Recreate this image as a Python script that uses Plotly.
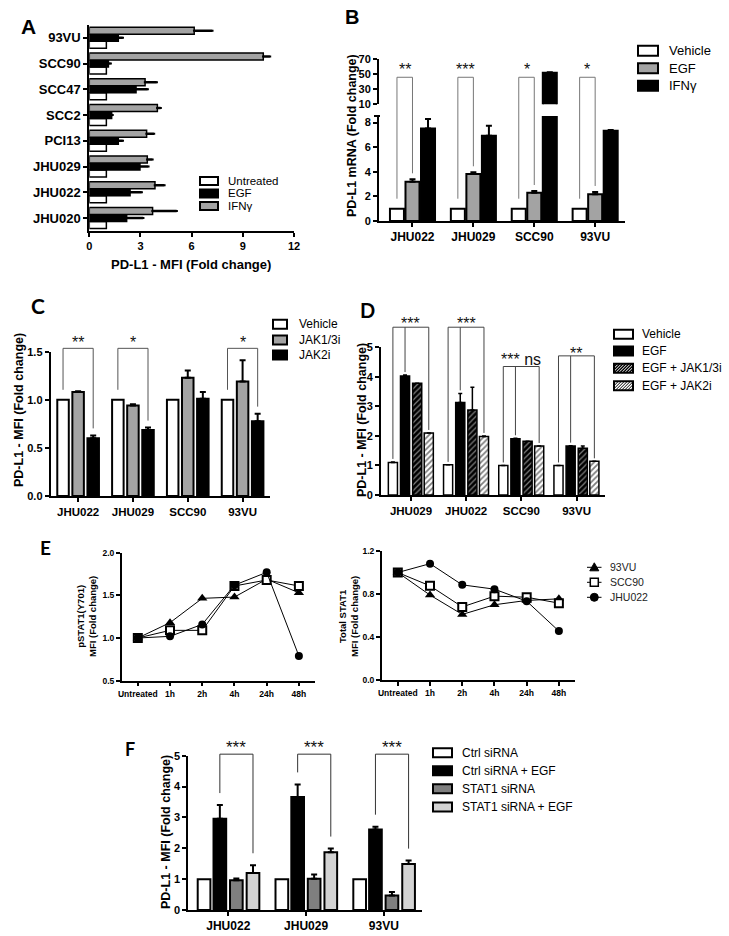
import plotly.graph_objects as go

W, H = 729, 936
FONT = "Liberation Sans, Arial, sans-serif"
LFONT = "Lato, Open Sans, sans-serif"

# ======================= DATA =======================
# Panel A (horizontal bars, listed top -> bottom)
a_lines = ["93VU", "SCC90", "SCC47", "SCC2", "PCI13", "JHU029", "JHU022", "JHU020"]
a_series = ["Untreated", "EGF", "IFNγ"]
a_untreated = [1.0, 1.0, 1.0, 1.0, 1.0, 1.0, 1.0, 1.0]
a_egf = [1.70, 1.12, 2.74, 1.31, 1.70, 2.97, 2.39, 2.19]
a_egf_err = [0.26, 0.13, 0.68, 0.05, 0.26, 0.49, 0.68, 0.97]
a_ifn = [6.15, 10.20, 3.27, 3.99, 3.36, 3.40, 3.85, 3.71]
a_ifn_err = [1.06, 0.39, 0.68, 0.19, 0.43, 0.30, 0.55, 1.41]
a_xticks = [0, 3, 6, 9, 12]

# Panel B (broken axis)
b_lines = ["JHU022", "JHU029", "SCC90", "93VU"]
b_series = ["Vehicle", "EGF", "IFNγ"]
b_vehicle = [1.0, 1.0, 1.0, 1.0]
b_egf = [3.20, 3.82, 2.30, 2.17]
b_egf_err = [0.19, 0.14, 0.14, 0.19]
b_ifn = [7.53, 6.94, 52.2, 7.34]
b_ifn_err = [0.76, 0.81, 0.5, 0.06]
b_yticks_low = [0, 2, 4, 6, 8]
b_yticks_high = [10, 30, 50, 70]
b_sig = ["**", "***", "*", "*"]

# Panel C
c_lines = ["JHU022", "JHU029", "SCC90", "93VU"]
c_series = ["Vehicle", "JAK1/3i", "JAK2i"]
c_vehicle = [1.0, 1.0, 1.0, 1.0]
c_jak13 = [1.08, 0.94, 1.23, 1.19]
c_jak13_err = [0.01, 0.015, 0.075, 0.22]
c_jak2 = [0.60, 0.686, 1.01, 0.776]
c_jak2_err = [0.03, 0.025, 0.07, 0.08]
c_yticks = [0.0, 0.5, 1.0, 1.5]
c_sig = ["**", "*", "", "*"]

# Panel D
d_lines = ["JHU029", "JHU022", "SCC90", "93VU"]
d_series = ["Vehicle", "EGF", "EGF + JAK1/3i", "EGF + JAK2i"]
d_vehicle = [1.10, 1.02, 1.0, 1.0]
d_vehicle_err = [0.02, 0.0, 0.0, 0.0]
d_egf = [4.03, 3.13, 1.90, 1.66]
d_egf_err = [0.03, 0.31, 0.02, 0.01]
d_jak13 = [3.78, 2.88, 1.82, 1.58]
d_jak13_err = [0.0, 0.77, 0.0, 0.08]
d_jak2 = [2.10, 1.98, 1.66, 1.14]
d_jak2_err = [0.0, 0.02, 0.0, 0.0]
d_yticks = [0, 1, 2, 3, 4, 5]
d_sig = ["***", "***", "*** ns", "**"]

# Panel E (time courses)
e_times = ["Untreated", "1h", "2h", "4h", "24h", "48h"]
e_lines = ["93VU", "SCC90", "JHU022"]
e_pstat1_93vu = [1.0, 1.18, 1.465, 1.48, 1.69, 1.53]
e_pstat1_scc90 = [1.0, 1.09, 1.09, 1.61, 1.68, 1.61]
e_pstat1_jhu022 = [1.0, 1.02, 1.16, 1.62, 1.77, 0.79]
e_total_93vu = [1.0, 0.79, 0.61, 0.70, 0.74, 0.755]
e_total_scc90 = [1.0, 0.876, 0.68, 0.78, 0.77, 0.715]
e_total_jhu022 = [1.0, 1.082, 0.885, 0.845, 0.733, 0.455]
e_yticks_p = [0.5, 1.0, 1.5, 2.0]
e_yticks_t = [0.0, 0.4, 0.8, 1.2]

# Panel F
f_lines = ["JHU022", "JHU029", "93VU"]
f_series = ["Ctrl siRNA", "Ctrl siRNA + EGF", "STAT1 siRNA", "STAT1 siRNA + EGF"]
f_ctrl = [1.0, 1.0, 1.0]
f_ctrl_egf = [2.96, 3.66, 2.61]
f_ctrl_egf_err = [0.44, 0.41, 0.09]
f_stat1 = [0.96, 1.01, 0.47]
f_stat1_err = [0.06, 0.14, 0.11]
f_stat1_egf = [1.20, 1.87, 1.49]
f_stat1_egf_err = [0.25, 0.12, 0.11]
f_yticks = [0, 1, 2, 3, 4, 5]
f_sig = ["***", "***", "***"]

# ======================= STYLE =======================
GRAY = "#a3a3a3"
DGRAY = "#7f7f7f"
LGRAY = "#d3d3d3"

fig = go.Figure()
shapes = []
annots = []


def dom_x(x0, x1):
    return [x0 / W, x1 / W]


def dom_y(ytop, ybot):
    return [1 - ybot / H, 1 - ytop / H]


def base_axis(size=11, **kw):
    d = dict(showline=True, linecolor="black", linewidth=2, ticks="outside",
             ticklen=4, tickwidth=2, tickcolor="black", showgrid=False,
             zeroline=False, automargin=False, fixedrange=True,
             tickfont=dict(family=FONT, size=size, color="black", weight="bold"))
    d.update(kw)
    return d


def add_bars(pos, vals, errs, xa, ya, offset, width, color, lw=1.5,
             pattern=None, orient="v", err_w=3, err_t=2, name=None):
    marker = dict(color=color, line=dict(color="black", width=lw))
    if pattern is not None:
        marker["pattern"] = pattern
    kw = dict(name=name, xaxis=xa, yaxis=ya, width=width, offset=offset,
              showlegend=False, marker=marker, hoverinfo="skip")
    err = None
    if errs is not None:
        err = dict(type="data", symmetric=False, array=list(errs),
                   arrayminus=[0] * len(errs), color="black",
                   thickness=err_t, width=err_w)
    if orient == "h":
        kw.update(orientation="h", y=pos, x=vals)
        if err:
            kw["error_x"] = err
    else:
        kw.update(x=pos, y=vals)
        if err:
            kw["error_y"] = err
    fig.add_trace(go.Bar(**kw))


def yfrac(v, r):
    return (v - r[0]) / (r[1] - r[0])


def bracket(xa, ya, rng, xs, bottoms, top, label, label_y, color, fs, lw=1):
    yref = ya + " domain"
    shapes.append(dict(type="line", xref=xa, yref=yref, x0=min(xs), x1=max(xs),
                       y0=yfrac(top, rng), y1=yfrac(top, rng),
                       line=dict(color=color, width=lw)))
    for x, b in zip(xs, bottoms):
        shapes.append(dict(type="line", xref=xa, yref=yref, x0=x, x1=x,
                           y0=yfrac(b, rng), y1=yfrac(top, rng),
                           line=dict(color=color, width=lw)))
    if label:
        annots.append(dict(xref=xa, yref=yref, x=(min(xs) + max(xs)) / 2,
                           y=yfrac(label_y, rng), text=label, showarrow=False,
                           xanchor="center", yanchor="middle",
                           font=dict(family=FONT, size=fs, color="#111")))


def pxs(x):
    return x / W


def pys(y):
    return 1 - y / H


def legend_box(x0, x1, yc, h, fill, hatch=None, lw=2):
    y0, y1 = yc - h / 2, yc + h / 2
    shapes.append(dict(type="rect", xref="paper", yref="paper", x0=pxs(x0), x1=pxs(x1),
                       y0=pys(y1), y1=pys(y0), fillcolor=fill, line=dict(width=0)))
    if hatch is not None:
        hcol, sp = hatch
        c = x0 + y0 + sp / 2
        while c < x1 + y1:
            xa_ = max(x0, c - y1)
            xb_ = min(x1, c - y0)
            if xa_ < xb_:
                shapes.append(dict(type="line", xref="paper", yref="paper",
                                   x0=pxs(xa_), y0=pys(c - xa_), x1=pxs(xb_), y1=pys(c - xb_),
                                   line=dict(color=hcol, width=1)))
            c += sp
    shapes.append(dict(type="rect", xref="paper", yref="paper", x0=pxs(x0), x1=pxs(x1),
                       y0=pys(y1), y1=pys(y0), fillcolor="rgba(0,0,0,0)",
                       line=dict(color="black", width=lw)))


def legend_text(x, yc, text, size, color="black"):
    annots.append(dict(xref="paper", yref="paper", x=pxs(x), y=pys(yc), text=text,
                       showarrow=False, xanchor="left", yanchor="middle",
                       font=dict(family=FONT, size=size, color=color)))


def free_text(x, y, text, size, family=FONT, bold=True, angle=0, color="black"):
    annots.append(dict(xref="paper", yref="paper", x=pxs(x), y=pys(y), text=text,
                       showarrow=False, xanchor="center", yanchor="middle",
                       textangle=angle,
                       font=dict(family=family, size=size, color=color,
                                 weight="bold" if bold else "normal")))


layout_axes = {}

# ======================= PANEL A =======================
a_pos = list(range(len(a_lines)))
A_W = 0.27
add_bars(a_pos, a_untreated, None, "x", "y", 0.13, A_W, "white", orient="h", name=a_series[0])
add_bars(a_pos, a_egf, a_egf_err, "x", "y", -0.14, A_W, "black", orient="h",
         err_w=1, err_t=2.5, name=a_series[1])
add_bars(a_pos, a_ifn, a_ifn_err, "x", "y", -0.41, A_W, GRAY, orient="h",
         err_w=1, err_t=2.5, name=a_series[2])
layout_axes["xaxis"] = base_axis(11, domain=dom_x(89.3, 294), range=[0, 12],
                                 tickvals=a_xticks, anchor="y")
layout_axes["yaxis"] = base_axis(13, domain=dom_y(25, 231), range=[7.5, -0.5],
                                 tickvals=a_pos, ticktext=a_lines, anchor="x")
free_text(191, 264, "PD-L1 - MFI (Fold change)", 13)
for lbl, col, yc in zip(a_series, ["white", "black", GRAY], [181, 193.5, 206]):
    legend_box(200, 218, yc, 8, col)
    legend_text(226, yc, lbl, 11.5)
free_text(28, 26, "A", 21)

# ======================= PANEL B =======================
b_pos = list(range(len(b_lines)))
B_W = 0.23
B_OFF = [-0.37, -0.115, 0.14]
B_LOW = [0, 8.54]
B_HIGH = [10, 70]
add_bars(b_pos, b_vehicle, None, "x2", "y2", B_OFF[0], B_W, "white", lw=2, name=b_series[0])
add_bars(b_pos, b_egf, b_egf_err, "x2", "y2", B_OFF[1], B_W, GRAY, lw=2, name=b_series[1])
b_ifn_err_low = [e if v + e < B_LOW[1] else 0 for v, e in zip(b_ifn, b_ifn_err)]
add_bars(b_pos, b_ifn, b_ifn_err_low, "x2", "y2", B_OFF[2], B_W, "black", lw=2, name=b_series[2])
# upper segment of the broken axis: only values that reach it
b_ifn_high = [v if v > B_HIGH[0] else None for v in b_ifn]
b_ifn_err_high = [e if v > B_HIGH[0] else 0 for v, e in zip(b_ifn, b_ifn_err)]
add_bars(b_pos, b_ifn_high, b_ifn_err_high, "x2", "y3", B_OFF[2], B_W, "black", lw=2,
         name=b_series[2])
layout_axes["xaxis2"] = base_axis(12, domain=dom_x(379, 625), range=[-0.55, 3.49],
                                  tickvals=b_pos, ticktext=b_lines, anchor="y2")
layout_axes["yaxis2"] = base_axis(11, domain=dom_y(116, 221), range=B_LOW,
                                  tickvals=b_yticks_low, anchor="x2")
layout_axes["yaxis3"] = base_axis(11, domain=dom_y(59.3, 104.3), range=B_HIGH,
                                  tickvals=b_yticks_high, anchor="x2")
shapes.append(dict(type="line", xref="paper", yref="paper", x0=pxs(374), x1=pxs(380),
                   y0=pys(116), y1=pys(116), line=dict(color="black", width=2)))
b_ppu = (221 - 116) / (B_LOW[1] - B_LOW[0])
for i in b_pos:
    xl = i + B_OFF[0] + B_W / 2
    xr = i + B_OFF[1] + B_W / 2
    bl = b_vehicle[i] + 10 / b_ppu
    br = b_egf[i] + b_egf_err[i] + 6 / b_ppu
    bracket("x2", "y2", B_LOW, [xl, xr], [bl, br], 11.69, b_sig[i], 12.35, "#777", 16)
free_text(352, 136, "PD-L1 mRNA (Fold change)", 12.5, angle=-90)
for lbl, col, yc in zip(b_series, ["white", GRAY, "black"], [50.7, 68.3, 85.7]):
    legend_box(638, 658, yc, 10, col)
    legend_text(667, yc, lbl, 13)
free_text(352, 17, "B", 20)

# ======================= PANEL C =======================
c_pos = list(range(len(c_lines)))
C_W = 0.21
C_OFF = [-0.38, -0.105, 0.17]
C_R = [0, 1.5]
add_bars(c_pos, c_vehicle, None, "x3", "y4", C_OFF[0], C_W, "white", lw=2, name=c_series[0])
add_bars(c_pos, c_jak13, c_jak13_err, "x3", "y4", C_OFF[1], C_W, GRAY, lw=2, name=c_series[1])
add_bars(c_pos, c_jak2, c_jak2_err, "x3", "y4", C_OFF[2], C_W, "black", lw=2, name=c_series[2])
layout_axes["xaxis3"] = base_axis(11.5, domain=dom_x(50.7, 270), range=[-0.5, 3.5],
                                  tickvals=c_pos, ticktext=c_lines, anchor="y4")
layout_axes["yaxis4"] = base_axis(11, domain=dom_y(351.7, 496), range=C_R,
                                  tickvals=c_yticks, tickformat=".1f", anchor="x3")
c_ppu = (496 - 351.7) / (C_R[1] - C_R[0])
for i in c_pos:
    if not c_sig[i]:
        continue
    xl = i + C_OFF[0] + C_W / 2
    xr = i + C_OFF[2] + C_W / 2
    bl = c_vehicle[i] + 10 / c_ppu
    br = c_jak2[i] + c_jak2_err[i] + 7 / c_ppu
    bracket("x3", "y4", C_R, [xl, xr], [bl, br], 1.535, c_sig[i], 1.596, "#555", 16)
free_text(19, 410, "PD-L1 - MFI (Fold change)", 12.5, angle=-90)
for lbl, col, yc in zip(c_series, ["white", GRAY, "black"], [324.3, 340, 355]):
    legend_box(273, 287, yc, 9, col)
    legend_text(297, yc, lbl, 12)
free_text(38, 306, "C", 21, family=LFONT)

# ======================= PANEL D =======================
d_pos = list(range(len(d_lines)))
D_W = 0.165
D_OFF = [-0.41, -0.19, 0.03, 0.24]
D_R = [0, 5]
pat13 = dict(shape="/", fgcolor="white", bgcolor="black", size=4, solidity=0.3)
pat2 = dict(shape="/", fgcolor="black", bgcolor="white", size=4, solidity=0.45)
add_bars(d_pos, d_vehicle, d_vehicle_err, "x4", "y5", D_OFF[0], D_W, "white", lw=1.5,
         err_w=2, err_t=1.5, name=d_series[0])
add_bars(d_pos, d_egf, d_egf_err, "x4", "y5", D_OFF[1], D_W, "black", lw=1.5,
         err_w=2, err_t=1.5, name=d_series[1])
add_bars(d_pos, d_jak13, d_jak13_err, "x4", "y5", D_OFF[2], D_W, "black", lw=1.5,
         pattern=pat13, err_w=2, err_t=1.5, name=d_series[2])
add_bars(d_pos, d_jak2, d_jak2_err, "x4", "y5", D_OFF[3], D_W, "white", lw=1.5,
         pattern=pat2, err_w=2, err_t=1.5, name=d_series[3])
layout_axes["xaxis4"] = base_axis(11.5, domain=dom_x(381, 605), range=[-0.543, 3.515],
                                  tickvals=d_pos, ticktext=d_lines, anchor="y5")
layout_axes["yaxis5"] = base_axis(11, domain=dom_y(347.3, 495), range=D_R,
                                  tickvals=d_yticks, anchor="x4")
d_top = [5.68, 5.68, 4.35, 4.71]
d_lab = [5.80, 5.80, 4.58, 4.80]
d_ppu = (495 - 347.3) / (D_R[1] - D_R[0])
for i in d_pos:
    xs = [i + D_OFF[0] + D_W / 2, i + D_OFF[1] + D_W / 2, i + D_OFF[3] + D_W / 2]
    bts = [d_vehicle[i] + d_vehicle_err[i] + 3 / d_ppu,
           d_egf[i] + d_egf_err[i] + 3 / d_ppu,
           d_jak2[i] + d_jak2_err[i] + 3 / d_ppu]
    bracket("x4", "y5", D_R, xs, bts, d_top[i], d_sig[i], d_lab[i], "#444", 16)
free_text(362, 420, "PD-L1 - MFI (Fold change)", 12.5, angle=-90)
d_fills = [("white", None), ("black", None), ("black", ("white", 3)), ("white", ("black", 3))]
for lbl, (col, hat), yc in zip(d_series, d_fills, [334.3, 351, 368.3, 385.7]):
    legend_box(614, 633, yc, 9, col, hatch=hat)
    legend_text(640, yc, lbl, 12)
free_text(368, 310, "D", 20, family=LFONT)

# ======================= PANEL E =======================
e_pos = list(range(len(e_times)))
e_marks = [dict(symbol="triangle-up", size=9, color="black"),
           dict(symbol="square", size=8, color="white", line=dict(color="black", width=2)),
           dict(symbol="circle", size=8, color="black")]
for series, mk, nm in zip([e_pstat1_93vu, e_pstat1_scc90, e_pstat1_jhu022], e_marks, e_lines):
    fig.add_trace(go.Scatter(x=e_pos, y=series, mode="lines+markers", name=nm,
                             xaxis="x5", yaxis="y6", showlegend=False, hoverinfo="skip",
                             line=dict(color="black", width=1), marker=mk))
for series, mk, nm in zip([e_total_93vu, e_total_scc90, e_total_jhu022], e_marks, e_lines):
    fig.add_trace(go.Scatter(x=e_pos, y=series, mode="lines+markers", name=nm,
                             xaxis="x6", yaxis="y7", showlegend=False, hoverinfo="skip",
                             line=dict(color="black", width=1), marker=mk))
for xa, ya, xd, yd, rng, tv in [("xaxis5", "yaxis6", (121.7, 315), (552.7, 680.7), [0.5, 2.0], e_yticks_p),
                                ("xaxis6", "yaxis7", (381.7, 575), (551, 680), [0, 1.2], e_yticks_t)]:
    layout_axes[xa] = base_axis(8.5, domain=dom_x(*xd), range=[-0.5, 5.5], tickvals=e_pos,
                                ticktext=e_times, anchor=ya.replace("axis", ""),
                                linewidth=1.5, tickwidth=1.5)
    layout_axes[ya] = base_axis(8.5, domain=dom_y(*yd), range=rng, tickvals=tv,
                                tickformat=".1f", anchor=xa.replace("axis", ""),
                                linewidth=1.5, tickwidth=1.5)
free_text(86, 617, "pSTAT1(Y701)<br>MFI (Fold change)", 9.5, angle=-90)
free_text(348, 617, "Total STAT1<br>MFI (Fold change)", 9.5, angle=-90)
# E legend (symbol + line)
for nm, yc, kind in zip(e_lines, [567.3, 582.3, 597.3], ["tri", "sq", "ci"]):
    cx = 594.3
    shapes.append(dict(type="line", xref="paper", yref="paper", x0=pxs(587), x1=pxs(601.5),
                       y0=pys(yc), y1=pys(yc), line=dict(color="black", width=1)))
    if kind == "tri":
        path = "M {},{} L {},{} L {},{} Z".format(pxs(cx), pys(yc - 4.5), pxs(cx + 4.5), pys(yc + 3.5),
                                                   pxs(cx - 4.5), pys(yc + 3.5))
        shapes.append(dict(type="path", xref="paper", yref="paper", path=path,
                           fillcolor="black", line=dict(color="black", width=1)))
    elif kind == "sq":
        shapes.append(dict(type="rect", xref="paper", yref="paper", x0=pxs(cx - 4), x1=pxs(cx + 4),
                           y0=pys(yc + 4), y1=pys(yc - 4), fillcolor="white",
                           line=dict(color="black", width=1.5)))
    else:
        shapes.append(dict(type="circle", xref="paper", yref="paper", x0=pxs(cx - 4), x1=pxs(cx + 4),
                           y0=pys(yc + 4), y1=pys(yc - 4), fillcolor="black",
                           line=dict(color="black", width=1)))
    legend_text(608.3, yc, nm, 10.5, color="#222")
free_text(46, 547, "E", 19, family=LFONT)

# ======================= PANEL F =======================
f_pos = list(range(len(f_lines)))
F_W = 0.163
F_OFF = [-0.393, -0.19, 0.022, 0.236]
F_R = [0, 5]
add_bars(f_pos, f_ctrl, None, "x7", "y8", F_OFF[0], F_W, "white", lw=2, name=f_series[0])
add_bars(f_pos, f_ctrl_egf, f_ctrl_egf_err, "x7", "y8", F_OFF[1], F_W, "black", lw=2, name=f_series[1])
add_bars(f_pos, f_stat1, f_stat1_err, "x7", "y8", F_OFF[2], F_W, DGRAY, lw=2, name=f_series[2])
add_bars(f_pos, f_stat1_egf, f_stat1_egf_err, "x7", "y8", F_OFF[3], F_W, LGRAY, lw=2, name=f_series[3])
layout_axes["xaxis7"] = base_axis(12, domain=dom_x(188.3, 421.7), range=[-0.514, 2.486],
                                  tickvals=f_pos, ticktext=f_lines, anchor="y8")
layout_axes["yaxis8"] = base_axis(11, domain=dom_y(755.7, 910), range=F_R,
                                  tickvals=f_yticks, anchor="x7")
f_ppu = (910 - 755.7) / (F_R[1] - F_R[0])
for i in f_pos:
    xl = i + F_OFF[1] + F_W / 2
    xr = i + F_OFF[3] + F_W / 2
    bl = f_ctrl_egf[i] + f_ctrl_egf_err[i] + 12 / f_ppu
    br = f_stat1_egf[i] + f_stat1_egf_err[i] + 12 / f_ppu
    bracket("x7", "y8", F_R, [xl, xr], [bl, br], 5.05, f_sig[i], 5.25, "#333", 17)
free_text(166, 832, "PD-L1 - MFI (Fold change)", 12.5, angle=-90)
for lbl, col, yc in zip(f_series, ["white", "black", DGRAY, LGRAY], [752.8, 770.8, 788.8, 807]):
    legend_box(433, 452, yc, 9, col)
    legend_text(460, yc, lbl, 12)
free_text(130, 749, "F", 18, family=LFONT)

fig.update_layout(
    width=W, height=H, autosize=False,
    margin=dict(l=0, r=0, t=0, b=0, pad=0),
    paper_bgcolor="white", plot_bgcolor="white",
    showlegend=False, barmode="overlay",
    font=dict(family=FONT, color="black"),
    shapes=shapes, annotations=annots,
    **layout_axes,
)

fig.write_html(
    "out.html",
    config={"displayModeBar": False, "responsive": False},
    post_script="document.body.style.margin='0px';document.body.style.padding='0px';",
)
